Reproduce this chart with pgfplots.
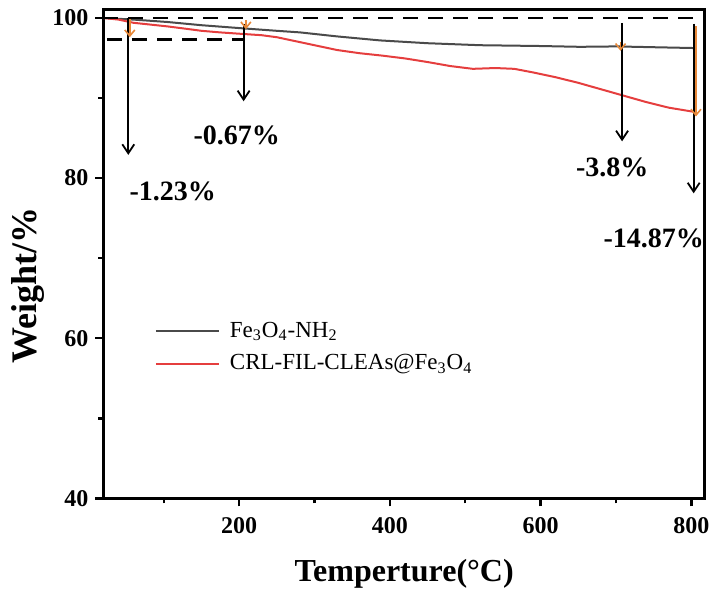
\documentclass[border=0pt]{standalone}
\usepackage{pgfplots}
\pgfplotsset{compat=1.18}
\usepackage{fontspec}
\setmainfont{Liberation Serif}
\usetikzlibrary{arrows.meta}

\definecolor{curvegray}{HTML}{4A4A4A}
\definecolor{curvered}{HTML}{E53E3E}
\definecolor{markorange}{HTML}{E8893A}

\pgfplotstableread{
T w
20 100.0
60 99.8
105 99.5
150 99.1
206 98.7
250 98.4
281 98.2
330 97.7
387 97.2
450 96.85
520 96.6
600 96.5
652 96.4
700 96.45
750 96.35
802 96.25
}\amine

\pgfplotstableread{
T w
20 100.0
40 99.8
60 99.4
80 99.2
105 98.95
130 98.65
150 98.4
175 98.2
206 98.0
230 97.85
250 97.6
270 97.2
300 96.6
330 96.0
360 95.6
390 95.3
420 94.95
450 94.5
480 94.0
510 93.65
540 93.75
565 93.65
590 93.2
620 92.6
650 91.9
680 91.1
710 90.3
740 89.5
770 88.8
802 88.3
}\clea

\begin{document}
\begin{tikzpicture}
\begin{axis}[
    name=ax,
    scale only axis,
    width=300.8pt, height=244.2pt,
    xmin=20, xmax=818,
    ymin=40, ymax=101,
    xtick={200,400,600,800},
    minor xtick={100,300,500,700},
    ytick={40,60,80,100},
    minor ytick={50,70,90},
    xtick pos=left, ytick pos=left,
    tick align=outside,
    major tick length=4pt,
    minor tick length=2.5pt,
    every tick/.style={black, line width=1.2pt},
    axis line style={line width=1.5pt},
    /pgf/number format/assume math mode=true,
    ticklabel style={font=\fontsize{12}{14}\selectfont\bfseries},
    xticklabel style={yshift=-2pt},
    xlabel={Temperture(°C)},
    ylabel={Weight/\%},
    xlabel style={font=\fontsize{16}{18}\selectfont\bfseries,
        at={(axis description cs:0.5,-0.171)}, anchor=base},
    ylabel style={font=\fontsize{18}{20}\selectfont\bfseries,
        at={(axis description cs:-0.126,0.436)}, anchor=center},
    legend cell align=left,
    legend style={at={(axis description cs:0.075,0.378)}, anchor=north west,
        draw=none, fill=none, font=\fontsize{11.5}{13}\selectfont,
        row sep=3pt},
    legend image code/.code={\draw[#1] (0pt,0pt) -- (31.5pt,0pt); \path (34.5pt,0pt);},
    clip=false,
]
\addplot[curvegray, line width=1pt] table[x=T, y=w] {\amine};
\addlegendentry{Fe\textsubscript{3}O\textsubscript{4}-NH\textsubscript{2}}
\addplot[curvered, line width=1pt] table[x=T, y=w] {\clea};
\addlegendentry{CRL-FIL-CLEAs@Fe\textsubscript{3}O\textsubscript{4}}

% reference levels
\draw[black, line width=1.2pt, dash pattern=on 7.5pt off 5pt] (axis cs:20,100) -- (axis cs:818,100);
\draw[black, line width=1.2pt, dash pattern=on 7.5pt off 5pt] (axis cs:25,97.3) -- (axis cs:206,97.3);

% mass-loss arrows
\draw[black, line width=0.9pt, -{Straight Barb[length=4.5pt,width=6pt]}] (axis cs:53,100) -- (axis cs:53,82.9);
\draw[black, line width=0.9pt, -{Straight Barb[length=4.5pt,width=6pt]}] (axis cs:206,99.2) -- (axis cs:206,89.6);
\draw[black, line width=0.9pt, -{Straight Barb[length=4.5pt,width=6pt]}] (axis cs:708,99.4) -- (axis cs:708,84.6);
\draw[black, line width=0.9pt, -{Straight Barb[length=4.5pt,width=6pt]}] (axis cs:803,99.3) -- (axis cs:803,78.1);

\draw[markorange, line width=0.8pt, -{Straight Barb[length=3pt,width=5pt]}] (axis cs:55,99.9) -- (axis cs:55,97.6);
\draw[markorange, line width=0.8pt, -{Straight Barb[length=3pt,width=5pt]}] (axis cs:209,99.7) -- (axis cs:209,98.6);
\draw[markorange, line width=0.8pt, -{Straight Barb[length=3pt,width=5pt]}] (axis cs:706,97.0) -- (axis cs:706,95.9);
\draw[markorange, line width=0.8pt, -{Straight Barb[length=3pt,width=5pt]}] (axis cs:806,99.0) -- (axis cs:806,87.7);

\node[font=\fontsize{14}{16}\selectfont\bfseries] at (axis cs:112,78.3) {-1.23\%};
\node[font=\fontsize{14}{16}\selectfont\bfseries] at (axis cs:197,85.4) {-0.67\%};
\node[font=\fontsize{14}{16}\selectfont\bfseries] at (axis cs:695,81.3) {-3.8\%};
\node[font=\fontsize{14}{16}\selectfont\bfseries] at (axis cs:750,72.5) {-14.87\%};
\end{axis}
\pgfresetboundingbox
\path ([shift={(-51.7pt,-47.5pt)}]ax.south west) rectangle ([shift={(3.5pt,5pt)}]ax.north east);
\end{tikzpicture}
\end{document}
